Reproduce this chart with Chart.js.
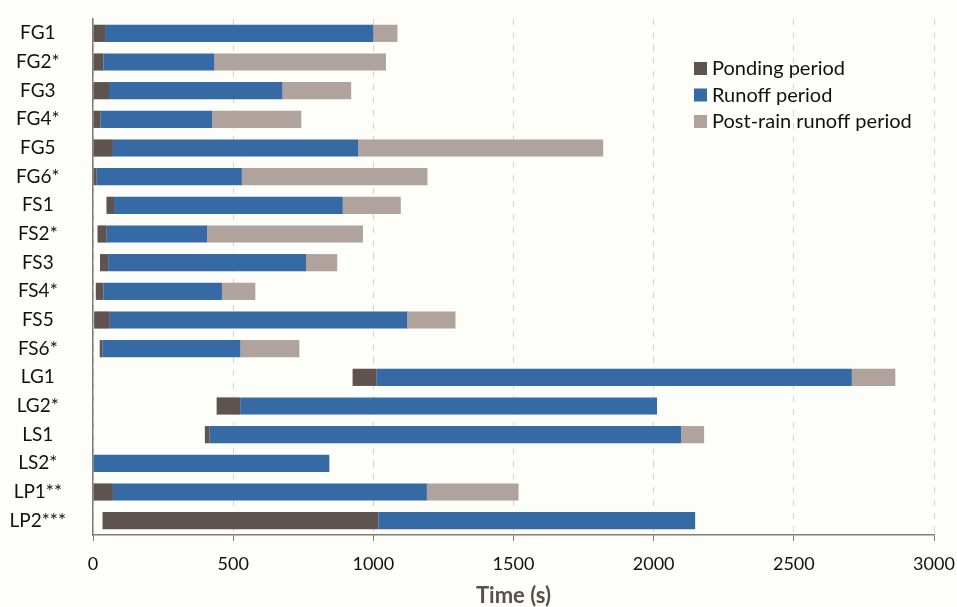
<!DOCTYPE html>
<html>
<head>
<meta charset="utf-8">
<script src="https://cdn.jsdelivr.net/npm/chart.js@4/dist/chart.umd.min.js"></script>
<style>
  html, body { margin: 0; padding: 0; background: #fdfdfa; }
  #wrap { width: 957px; height: 607px; }
</style>
</head>
<body>
<div id="wrap"><canvas id="chart" width="957" height="607"></canvas></div>
<script>
// experiments and their periods (seconds)
const categories = ["FG1", "FG2*", "FG3", "FG4*", "FG5", "FG6*", "FS1", "FS2*", "FS3", "FS4*", "FS5", "FS6*",
    "LG1", "LG2*", "LS1", "LS2*", "LP1**", "LP2***"];
const pondStart = [0, 0, 0, 0, 0, 0, 48, 16, 25, 10, 4, 24, 926, 441, 399, 0, 0, 34];
const pondEnd   = [43, 37, 57, 27, 71, 13, 75, 49, 54, 37, 60, 33, 1012, 525, 416, 0, 71, 1018];
const runoffEnd = [1000, 433, 676, 425, 946, 531, 891, 407, 760, 460, 1121, 526, 2707, 2012, 2098, 843, 1191, 2148];
const postEnd   = [1086, 1045, 921, 743, 1820, 1193, 1098, 963, 871, 579, 1293, 736, 2862, 2012, 2180, 843, 1518, 2148];
const xTicks = [0, 500, 1000, 1500, 2000, 2500, 3000];

const seriesNames = ["Ponding period", "Runoff period", "Post-rain runoff period"];
const seriesColors = ["#5f5350", "#356aa4", "#b0a29c"];

// turn the period limits into [start, end] pairs, null where a period is empty
function segs(from, to) {
    return from.map((s, i) => (to[i] > s ? [s, to[i]] : null));
}

// legend drawn inside the plot, top right
const innerLegend = {
    id: "innerLegend",
    afterDraw(chart) {
        const ctx = chart.ctx;
        ctx.save();
        ctx.font = "20px Lato, 'Open Sans', sans-serif";
        ctx.textBaseline = "middle";
        seriesNames.forEach((name, i) => {
            const y = 68 + i * 26.5;
            ctx.fillStyle = seriesColors[i];
            ctx.fillRect(694, y - 6, 13, 13);
            ctx.fillStyle = "#111";
            ctx.fillText(name, 712, y + 1);
        });
        ctx.restore();
    }
};

new Chart(document.getElementById("chart"), {
    type: "bar",
    data: {
        labels: categories,
        datasets: [
            { label: seriesNames[0], data: segs(pondStart, pondEnd), backgroundColor: seriesColors[0] },
            { label: seriesNames[1], data: segs(pondEnd, runoffEnd), backgroundColor: seriesColors[1] },
            { label: seriesNames[2], data: segs(runoffEnd, postEnd), backgroundColor: seriesColors[2] }
        ]
    },
    options: {
        indexAxis: "y",
        responsive: false,
        animation: false,
        categoryPercentage: 1,
        barPercentage: 0.6,
        layout: { padding: { left: 0, top: 19, right: 23, bottom: 0 } },
        plugins: {
            legend: { display: false },
            tooltip: { enabled: false }
        },
        scales: {
            x: {
                type: "linear",
                min: 0,
                max: 3000,
                stacked: false,
                afterBuildTicks(scale) { scale.ticks = xTicks.map(v => ({ value: v })); },
                afterFit(scale) {
                    scale.height = 72;
                    scale.paddingLeft = 0;
                    scale.paddingRight = 0;
                },
                grid: { color: "#d8d3cf", lineWidth: 1, tickLength: 6, tickColor: "#857a75" },
                border: { color: "#857a75", width: 1.5, dash: [6, 7] },
                ticks: {
                    color: "#111",
                    font: { family: "Lato, 'Open Sans', sans-serif", size: 18 },
                    padding: 12,
                    callback: v => String(v)
                },
                title: {
                    display: true,
                    text: "Time (s)",
                    color: "#5a504b",
                    font: { family: "Lato, 'Open Sans', sans-serif", size: 22, weight: "bold", lineHeight: 1 },
                    padding: { top: 0, bottom: 0 }
                }
            },
            y: {
                stacked: true,
                afterFit(scale) {
                    scale.width = 93;
                    scale.paddingTop = 0;
                    scale.paddingBottom = 0;
                },
                grid: { display: false, drawTicks: true, tickLength: 27 },
                border: { color: "#857a75", width: 1.5 },
                ticks: {
                    color: "#111",
                    crossAlign: "center",
                    padding: 0,
                    font: { family: "Lato, 'Open Sans', sans-serif", size: 19 }
                }
            }
        }
    },
    plugins: [innerLegend]
});
</script>
</body>
</html>
